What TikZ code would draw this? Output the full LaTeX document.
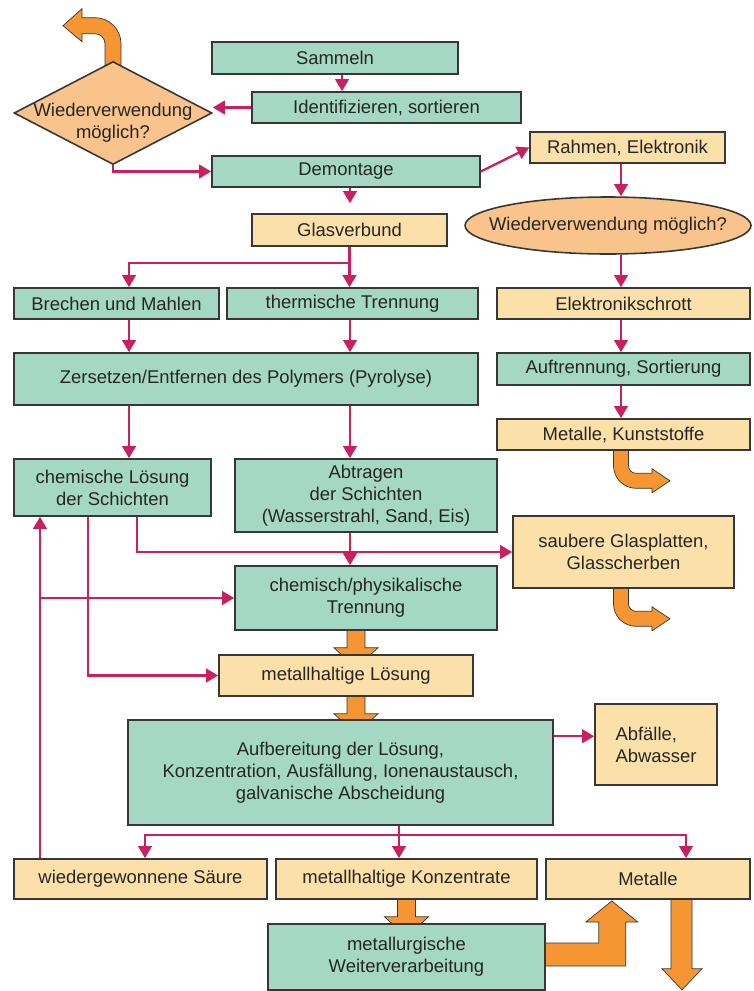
\documentclass[tikz,border=0pt]{standalone}
\usepackage{fontspec}
\setmainfont{Liberation Sans}
\usetikzlibrary{calc, shapes.geometric, arrows.meta, backgrounds}

\definecolor{boxgreen}{RGB}{164,216,196}
\definecolor{boxtan}{RGB}{252,224,170}
\definecolor{askorange}{RGB}{248,196,140}
\definecolor{flowred}{RGB}{200,32,96}
\definecolor{fatorange}{RGB}{246,150,50}
\definecolor{edge}{RGB}{55,55,55}

\tikzset{
	box/.style 2 args={draw=edge, line width=0.9pt, inner sep=0pt, align=center,
		minimum width=#1*0.02cm, minimum height=#2*0.02cm},
	ask/.style 2 args={draw=edge, fill=askorange, line width=0.9pt, inner sep=0pt,
		minimum width=#1*0.02cm, minimum height=#2*0.02cm},
	link/.style={draw=flowred, line width=1.3pt, -{Triangle[length=0.24cm, width=0.27cm]}},
	fat/.style={fill=fatorange, draw=edge, line width=0.4pt},
	stub/.pic={
		\filldraw[fat] (-9,-2) -- (-9,17) -- (-22,17) -- (0,37) -- (22,17) -- (9,17) -- (9,-2) -- cycle;
	},
	bendout/.pic={
		\filldraw[fat] (-7.5,-2) -- (-7.5,15) .. controls (-7.5,27.4) and (2.6,37.5) .. (15,37.5)
			-- (31,37.5) -- (31,42) -- (49,30) -- (31,18) -- (31,22.5) -- (15,22.5)
			.. controls (10.9,22.5) and (7.5,19.1) .. (7.5,15) -- (7.5,-2) -- cycle;
	}
}

\begin{document}
\begin{tikzpicture}[x=0.02cm, y=-0.02cm, text=black!85,
		every node/.append style={font=\fontsize{10.5}{12.5}\selectfont}]
	\useasboundingbox (0,0) rectangle (754,991);
	
	% left part
	\node[box={246}{32}, fill=boxgreen] (sammeln) at (335,58) {Sammeln};
	\node[box={269}{31}, fill=boxgreen] (ident) at (386.5,107.5) {Identifizieren, sortieren};
	\node[diamond, ask={198}{103}] (reuse) at (113,113) {};
	\node[align=center] (reuse-label) at (113,123) {Wiederverwendung\\möglich?};
	\node[box={268}{31}, fill=boxgreen] (demontage) at (346,171.5) {Demontage};
	\node[box={195}{32}, fill=boxtan] (glas) at (349.5,230) {Glasverbund};
	\node[box={205}{31}, fill=boxgreen] (brechen) at (116.5,303.5) {Brechen und Mahlen};
	\node[box={251}{31}, fill=boxgreen] (thermisch) at (352.5,303.5) {thermische Trennung};
	\node[box={464}{52}, fill=boxgreen] (zersetzen) at (246,379) {Zersetzen/Entfernen des Polymers (Pyrolyse)};
	\node[box={197}{57}, fill=boxgreen] (chemloes) at (112.5,487.5) {chemische Lösung\\der Schichten};
	\node[box={262}{73}, fill=boxgreen] (abtragen) at (366,495.5) {Abtragen\\der Schichten\\(Wasserstrahl, Sand, Eis)};
	\node[box={262}{64}, fill=boxgreen] (chemphys) at (366,598) {chemisch/physikalische\\Trennung};
	\node[box={254}{41}, fill=boxtan] (metloes) at (346,675.5) {metallhaltige Lösung};
	\node[box={425}{105}, fill=boxgreen] (aufber) at (340.5,772.5) {Aufbereitung der Lösung,\\Konzentration, Ausfällung, Ionenaustausch,\\galvanische Abscheidung};
	\node[box={253}{40}, fill=boxtan] (saeure) at (140.5,879) {wiedergewonnene Säure};
	\node[box={261}{40}, fill=boxtan] (konz) at (406.5,879) {metallhaltige Konzentrate};
	\node[box={277}{66}, fill=boxgreen] (metallurg) at (406.5,957) {metallurgische\\Weiterverarbeitung};
	
	% right part
	\node[box={195}{31}, fill=boxtan] (rahmen) at (627.5,147.5) {Rahmen, Elektronik};
	\node[ellipse, ask={286}{57}] (reuse2) at (608,225.5) {};
	\node (reuse2-label) at (608,226) {Wiederverwendung möglich?};
	\node[box={253}{31}, fill=boxtan] (eschrott) at (623.5,303.5) {Elektronikschrott};
	\node[box={253}{32}, fill=boxgreen] (auftrennung) at (623.5,369) {Auftrennung, Sortierung};
	\node[box={253}{31}, fill=boxtan] (metkunst) at (623.5,434.5) {Metalle, Kunststoffe};
	\node[box={221}{72}, fill=boxtan] (sauber) at (623.5,552) {saubere Glasplatten,\\Glasscherben};
	\node[box={122}{81}, fill=boxtan, align=left] (abfall) at (656,744.5) {Abfälle,\\Abwasser};
	\node[box={204}{40}, fill=boxtan] (metalle) at (648,879) {Metalle};
	
	% columns of the connectors
	\coordinate (cS) at (342,0);
	\coordinate (cA) at (129,0);
	\coordinate (cB) at (350,0);
	\coordinate (cC) at (621,0);
	\coordinate (cD) at (137,0);
	\coordinate (cE) at (88,0);
	\coordinate (cF) at (40,0);
	\coordinate (cG) at (145,0);
	\coordinate (cH) at (399,0);
	\coordinate (cI) at (686,0);
	\coordinate (cO) at (356,0);
	\coordinate (cM) at (682,0);
	\coordinate (outA) at ($(aufber.north east)+(0,17)$);
	
	\begin{scope}[link]
		\draw (cS |- sammeln.south) -- (cS |- ident.north);
		\draw (ident.west) -- (ident.west -| reuse.east);
		\draw (reuse.south) |- (demontage.west);
		\draw[shorten >=0.2cm] (cB |- demontage.south) -- (cB |- glas.north);
		\draw (demontage.east) -- (rahmen.west);
		\draw (cC |- rahmen.south) -- (cC |- reuse2.north);
		\draw (cC |- reuse2.south) -- (cC |- eschrott.north);
		\draw (cC |- eschrott.south) -- (cC |- auftrennung.north);
		\draw (cC |- auftrennung.south) -- (cC |- metkunst.north);
		\draw (glas.south) -- ++(0,16) -| (cA |- brechen.north);
		\draw (glas.south) -- (glas.south |- thermisch.north);
		\draw (cA |- brechen.south) -- (cA |- zersetzen.north);
		\draw (cB |- thermisch.south) -- (cB |- zersetzen.north);
		\draw (cA |- zersetzen.south) -- (cA |- chemloes.north);
		\draw (cB |- zersetzen.south) -- (cB |- abtragen.north);
		\draw (cB |- abtragen.south) -- (cB |- chemphys.north);
		\draw (cD |- chemloes.south) |- (sauber.west);
		\draw (cE |- chemloes.south) |- (metloes.west);
		\draw (cF |- saeure.north) -- (cF |- chemloes.south);
		\draw (cF |- chemphys.west) -- (chemphys.west);
		\draw (outA) -- (outA -| abfall.west);
		\draw (cH |- aufber.south) -- (cH |- konz.north);
		\draw (cH |- aufber.south) -- ++(0,9) -| (cG |- saeure.north);
		\draw (cH |- aufber.south) -- ++(0,9) -| (cI |- metalle.north);
	\end{scope}
	
	% thick orange arrows
	\begin{scope}[on background layer]
		\pic at (cO |- chemphys.south) {stub};
		\pic at (cO |- metloes.south) {stub};
		\pic at (konz.south) {stub};
		\pic at (cC |- metkunst.south) {bendout};
		\pic at (cC |- sauber.south) {bendout};
		\begin{scope}[shift={(reuse.north)}]
			\filldraw[fat] (8,6) -- (8,-17) .. controls (8,-31.4) and (-3.6,-43) .. (-18,-43)
				-- (-31,-43) -- (-31,-52) -- (-50,-35) -- (-31,-19) -- (-31,-27) -- (-18,-27)
				.. controls (-12.5,-27) and (-8,-22.5) .. (-8,-17) -- (-8,6) -- cycle;
		\end{scope}
		\begin{scope}[shift={(metallurg.east)}]
			\filldraw[fat] (-3,-14) -- (53,-14) -- (53,-35) -- (40,-35) -- (66,-56) -- (92,-35)
				-- (80,-35) -- (80,9) -- (-3,9) -- cycle;
		\end{scope}
		\begin{scope}[shift={(cM |- metalle.south)}]
			\filldraw[fat] (-11,-2) -- (-11,69) -- (-20,69) -- (0,90) -- (20,69) -- (10,69) -- (10,-2) -- cycle;
		\end{scope}
	\end{scope}
\end{tikzpicture}
\end{document}
